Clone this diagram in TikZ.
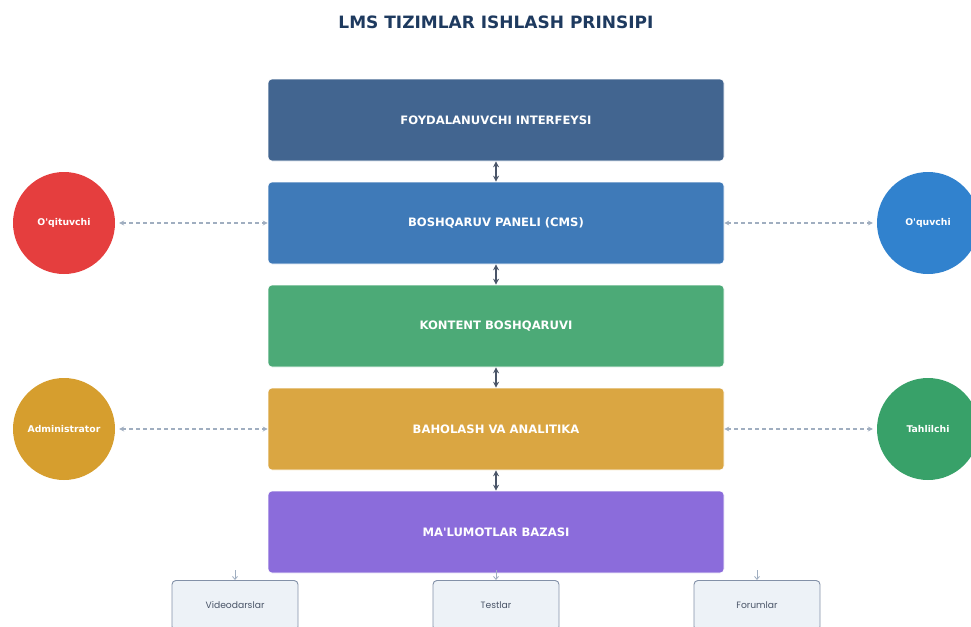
\documentclass[tikz,border=0pt]{standalone}
\usepackage{fontspec}
\setmainfont{DejaVu Sans}
\newfontfamily\popfont{Poppins}
\usetikzlibrary{arrows.meta}
\definecolor{cTitle}{HTML}{1E3A5F}
\definecolor{cA}{HTML}{426590}
\definecolor{cB}{HTML}{3F7AB8}
\definecolor{cC}{HTML}{4CAA77}
\definecolor{cD}{HTML}{DAA642}
\definecolor{cE}{HTML}{8B6CDB}
\definecolor{cRed}{HTML}{E53E3E}
\definecolor{cBlue}{HTML}{3182CE}
\definecolor{cGold}{HTML}{D69E2E}
\definecolor{cGreen}{HTML}{38A169}
\definecolor{cDash}{HTML}{A0AEC0}
\definecolor{cDark}{HTML}{4A5568}
\definecolor{cLight}{HTML}{EDF2F7}
\definecolor{cBorder}{HTML}{8391A8}
\definecolor{cText}{HTML}{4A5568}
\tikzset{
  x=1pt,y=-1pt,
  layer/.style={draw=white,line width=0.6pt,rounded corners=4pt,minimum width=456pt,minimum height=82pt,
    inner sep=0pt,text=white,font=\bfseries\fontsize{11.6}{13}\selectfont},
  actor/.style={circle,minimum size=102pt,inner sep=0pt,text=white,font=\bfseries\fontsize{9.3}{11}\selectfont},
  sub/.style={draw=cBorder,line width=0.9pt,fill=cLight,rounded corners=4pt,minimum width=126pt,minimum height=50pt,inner sep=0pt,
    text=cText,font=\popfont\fontsize{9.2}{11}\selectfont},
  vlink/.style={draw=cDark,line width=1.6pt,{Stealth[length=6pt,width=6pt]}-{Stealth[length=6pt,width=6pt]}},
  dlink/.style={draw=cDash,line width=1.2pt,dash pattern=on 4pt off 3pt,{Stealth[length=5pt,width=5pt]}-{Stealth[length=5pt,width=5pt]}},
  slink/.style={draw=cDash,line width=0.8pt,-{Straight Barb[length=3pt,width=5pt]}}
}
\begin{document}
\begin{tikzpicture}
\useasboundingbox (0,0) rectangle (971,626);
\clip (0,0) rectangle (971,626);
\node[text=cTitle,font=\bfseries\fontsize{17}{20}\selectfont] (title) at (496,22) {LMS TIZIMLAR ISHLASH PRINSIPI};
\node[layer,fill=cA] (l1) at (496,120) {FOYDALANUVCHI INTERFEYSI};
\node[layer,fill=cB] (l2) at (496,223) {BOSHQARUV PANELI (CMS)};
\node[layer,fill=cC] (l3) at (496,326) {KONTENT BOSHQARUVI};
\node[layer,fill=cD] (l4) at (496,429) {BAHOLASH VA ANALITIKA};
\node[layer,fill=cE] (l5) at (496,532) {MA\textquotesingle LUMOTLAR BAZASI};
\draw[vlink] (l1) -- (l2);
\draw[vlink] (l2) -- (l3);
\draw[vlink] (l3) -- (l4);
\draw[vlink] (l4) -- (l5);
\node[actor,fill=cRed] (t) at (64,223) {O\textquotesingle qituvchi};
\node[actor,fill=cBlue] (s) at (928,223) {O\textquotesingle quvchi};
\node[actor,fill=cGold] (a) at (64,429) {Administrator};
\node[actor,fill=cGreen] (h) at (928,429) {Tahlilchi};
\draw[dlink] ([xshift=4pt]t.east) -- (l2.west);
\draw[dlink] (l2.east) -- ([xshift=-4pt]s.west);
\draw[dlink] ([xshift=4pt]a.east) -- (l4.west);
\draw[dlink] (l4.east) -- ([xshift=-4pt]h.west);
\node[sub,anchor=north] (v) at (235,580) {Videodarslar};
\node[sub,anchor=north] (te) at (496,580) {Testlar};
\node[sub,anchor=north] (f) at (757,580) {Forumlar};
\coordinate (cv) at (235,570);
\coordinate (ct) at (496,570);
\coordinate (cf) at (757,570);
\draw[slink] (cv) -- (v.north);
\draw[slink] (ct) -- (te.north);
\draw[slink] (cf) -- (f.north);
\end{tikzpicture}
\end{document}
